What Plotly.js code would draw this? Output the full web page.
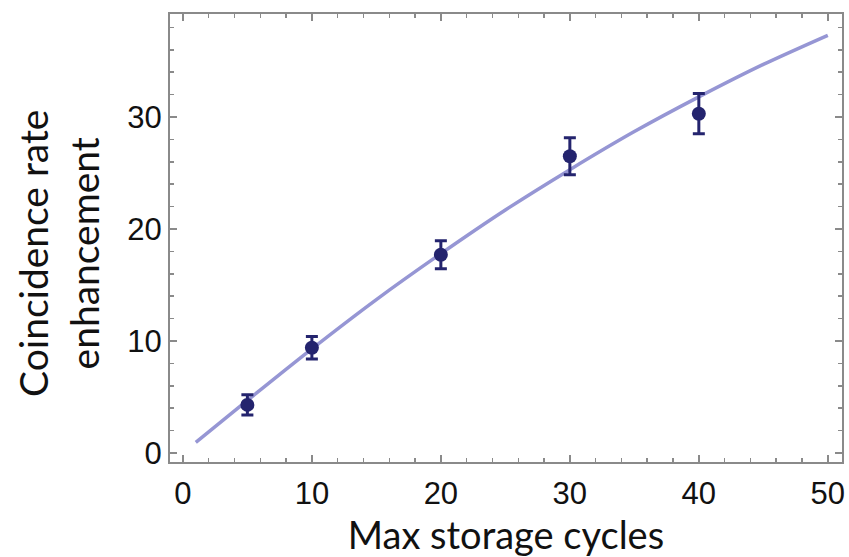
<!DOCTYPE html>
<html>
<head>
<meta charset="utf-8">
<script src="https://cdn.plot.ly/plotly-3.0.1.min.js"></script>
<style>html,body{margin:0;padding:0;background:#fff;}#chart{width:849px;height:557px;}</style>
</head>
<body>
<div id="chart"></div>
<script>
// Measured data points
const cycles = [5, 10, 20, 30, 40];
const enhancement = [4.3, 9.4, 17.7, 26.5, 30.3];
const enhancementErr = [0.9, 1.0, 1.25, 1.65, 1.8];

// Fit curve
const fitX = [1, 5, 10, 15, 20, 25, 30, 35, 40, 45, 50];
const fitY = [0.95, 4.7, 9.3, 13.7, 17.8, 21.7, 25.3, 28.7, 31.8, 34.7, 37.3];

const xTicks = [0, 10, 20, 30, 40, 50];
const yTicks = [0, 10, 20, 30];

const fitTrace = {
  x: fitX, y: fitY, type: 'scatter', mode: 'lines',
  line: {color: 'rgb(150,150,212)', width: 3.5, shape: 'spline', smoothing: 0.8},
  hoverinfo: 'skip', showlegend: false
};
const dataTrace = {
  x: cycles, y: enhancement, type: 'scatter', mode: 'markers',
  marker: {color: 'rgb(36,36,110)', size: 14},
  error_y: {type: 'data', array: enhancementErr, visible: true, color: 'rgb(36,36,110)', thickness: 3, width: 6},
  showlegend: false
};

const axisCommon = {
  showline: true, linecolor: '#8a8a8a', linewidth: 2, mirror: 'ticks',
  ticks: 'inside', ticklen: 7, tickwidth: 2, tickcolor: '#8a8a8a',
  showgrid: false, zeroline: false,
  tickfont: {family: 'Arial', size: 31, color: '#111'},
  minor: {dtick: 2, ticks: 'inside', ticklen: 4, tickwidth: 1.5, tickcolor: '#8a8a8a', showgrid: false}
};

const layout = {
  width: 849, height: 557,
  margin: {l: 170, r: 7, t: 14, b: 95},
  paper_bgcolor: '#fff', plot_bgcolor: '#fff',
  xaxis: Object.assign({}, axisCommon, {
    range: [-1.0, 51.1], tickvals: xTicks, ticktext: xTicks.map(String),
    ticklabelstandoff: 3,
    title: {text: 'Max storage cycles', font: {family: 'Lato', size: 38, color: '#111'}, standoff: 6}
  }),
  yaxis: Object.assign({}, axisCommon, {
    range: [-0.8, 39.2], tickvals: yTicks, ticktext: yTicks.map(String),
    ticklabelstandoff: 0
  }),
  annotations: [{
    text: 'Coincidence rate<br>enhancement', textangle: -90,
    xref: 'paper', yref: 'paper',
    x: (58 - 170) / 672, y: (462 - 254) / 448,
    xanchor: 'center', yanchor: 'middle', showarrow: false,
    font: {family: 'Lato', size: 39, color: '#111'}
  }]
};

Plotly.newPlot('chart', [fitTrace, dataTrace], layout, {displayModeBar: false, staticPlot: true});
</script>
</body>
</html>
